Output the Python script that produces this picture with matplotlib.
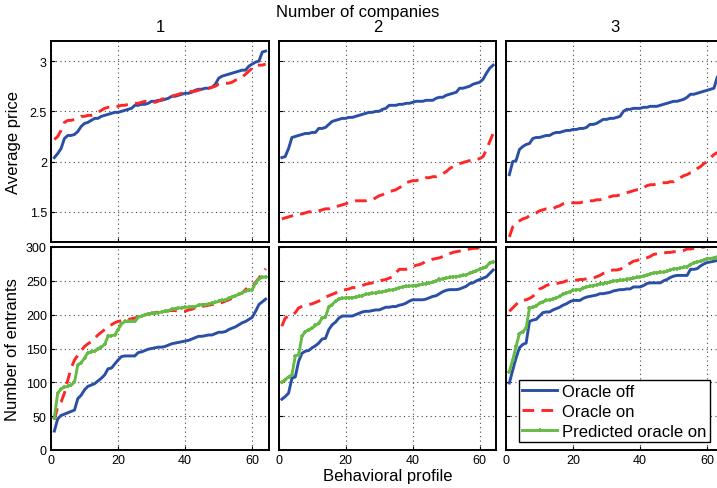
import numpy as np
import matplotlib
matplotlib.use("Agg")
import matplotlib.pyplot as plt

plt.rcParams['font.family'] = ['Liberation Sans', 'DejaVu Sans']

# behavioral profiles 1..64
profile = np.arange(1, 65)
companies = ["1", "2", "3"]

# average price, oracle off / on, per number of companies
price_off_1 = [2.04, 2.08, 2.13, 2.23, 2.26, 2.26, 2.27, 2.30, 2.35, 2.38, 2.39, 2.41, 2.43, 2.43, 2.45, 2.46,
               2.47, 2.48, 2.49, 2.49, 2.50, 2.51, 2.52, 2.53, 2.56, 2.56, 2.57, 2.57, 2.58, 2.60, 2.60, 2.61,
               2.61, 2.62, 2.63, 2.65, 2.65, 2.66, 2.67, 2.68, 2.68, 2.69, 2.71, 2.72, 2.72, 2.73, 2.73, 2.74,
               2.77, 2.83, 2.85, 2.86, 2.87, 2.88, 2.89, 2.90, 2.91, 2.91, 2.95, 2.97, 2.99, 3.00, 3.09, 3.10]
price_on_1 = [2.22, 2.25, 2.31, 2.39, 2.41, 2.41, 2.42, 2.43, 2.45, 2.45, 2.46, 2.46, 2.47, 2.49, 2.51, 2.53,
              2.54, 2.54, 2.55, 2.55, 2.56, 2.56, 2.57, 2.57, 2.58, 2.58, 2.59, 2.60, 2.59, 2.59, 2.59, 2.60,
              2.62, 2.63, 2.64, 2.65, 2.66, 2.67, 2.68, 2.69, 2.69, 2.70, 2.70, 2.71, 2.72, 2.73, 2.73, 2.74,
              2.75, 2.77, 2.77, 2.78, 2.78, 2.79, 2.81, 2.82, 2.84, 2.87, 2.90, 2.93, 2.96, 2.96, 2.96, 2.97]
price_off_2 = [2.04, 2.05, 2.13, 2.24, 2.25, 2.26, 2.27, 2.28, 2.28, 2.29, 2.29, 2.33, 2.33, 2.34, 2.37, 2.40,
               2.41, 2.42, 2.43, 2.43, 2.44, 2.44, 2.45, 2.46, 2.47, 2.48, 2.49, 2.49, 2.50, 2.50, 2.52, 2.53,
               2.56, 2.56, 2.56, 2.57, 2.57, 2.58, 2.58, 2.59, 2.60, 2.60, 2.60, 2.61, 2.61, 2.61, 2.63, 2.64,
               2.64, 2.66, 2.67, 2.68, 2.69, 2.73, 2.73, 2.74, 2.75, 2.77, 2.78, 2.79, 2.82, 2.88, 2.93, 2.96]
price_on_2 = [1.43, 1.44, 1.45, 1.46, 1.47, 1.48, 1.48, 1.49, 1.50, 1.50, 1.50, 1.51, 1.52, 1.53, 1.53, 1.54,
              1.55, 1.56, 1.57, 1.58, 1.59, 1.60, 1.61, 1.61, 1.61, 1.61, 1.62, 1.62, 1.64, 1.66, 1.67, 1.69,
              1.70, 1.71, 1.72, 1.74, 1.76, 1.79, 1.80, 1.81, 1.81, 1.82, 1.82, 1.84, 1.84, 1.85, 1.85, 1.86,
              1.88, 1.90, 1.93, 1.95, 1.97, 1.98, 1.99, 2.00, 2.01, 2.02, 2.02, 2.03, 2.05, 2.12, 2.20, 2.28]
price_off_3 = [1.87, 2.00, 2.01, 2.12, 2.15, 2.17, 2.18, 2.23, 2.24, 2.24, 2.25, 2.26, 2.26, 2.28, 2.29, 2.29,
               2.30, 2.31, 2.31, 2.32, 2.32, 2.33, 2.33, 2.34, 2.37, 2.37, 2.38, 2.40, 2.42, 2.42, 2.43, 2.43,
               2.44, 2.45, 2.50, 2.52, 2.52, 2.53, 2.53, 2.53, 2.54, 2.54, 2.55, 2.55, 2.55, 2.56, 2.57, 2.58,
               2.59, 2.60, 2.60, 2.61, 2.62, 2.64, 2.67, 2.67, 2.68, 2.69, 2.70, 2.71, 2.72, 2.73, 2.84, 2.89]
price_on_3 = [1.25, 1.35, 1.39, 1.41, 1.43, 1.44, 1.46, 1.48, 1.49, 1.51, 1.52, 1.53, 1.53, 1.53, 1.55, 1.56,
              1.58, 1.59, 1.59, 1.59, 1.59, 1.59, 1.60, 1.60, 1.61, 1.61, 1.62, 1.62, 1.63, 1.64, 1.65, 1.66,
              1.66, 1.67, 1.68, 1.69, 1.70, 1.71, 1.72, 1.72, 1.74, 1.76, 1.77, 1.77, 1.78, 1.78, 1.79, 1.79,
              1.80, 1.80, 1.82, 1.84, 1.86, 1.87, 1.89, 1.90, 1.93, 1.95, 1.98, 2.00, 2.04, 2.07, 2.09, 2.10]

# number of entrants
entr_off_1 = [28, 46, 51, 53, 55, 57, 59, 76, 81, 89, 94, 96, 98, 102, 106, 111,
              120, 121, 127, 133, 138, 139, 139, 139, 139, 144, 145, 147, 149, 150, 151, 152,
              152, 153, 155, 157, 158, 159, 160, 161, 162, 164, 166, 168, 168, 169, 170, 170,
              172, 174, 174, 175, 178, 180, 182, 185, 188, 190, 193, 196, 205, 215, 219, 223]
entr_on_1 = [45, 64, 71, 84, 103, 121, 133, 140, 147, 153, 157, 160, 165, 170, 174, 178,
             182, 185, 188, 190, 191, 192, 193, 194, 195, 197, 199, 200, 201, 202, 203, 204,
             205, 205, 206, 206, 206, 205, 205, 205, 207, 208, 210, 211, 212, 213, 214, 215,
             215, 216, 218, 220, 222, 224, 227, 230, 232, 237, 242, 243, 248, 254, 261, 268]
entr_pred_1 = [48, 84, 90, 93, 94, 96, 100, 126, 129, 136, 144, 145, 146, 150, 152, 156,
               168, 169, 170, 178, 186, 190, 190, 190, 190, 196, 198, 200, 201, 202, 202, 203,
               204, 205, 206, 208, 209, 210, 210, 211, 211, 212, 212, 214, 215, 215, 216, 217,
               218, 220, 221, 222, 224, 226, 228, 230, 232, 235, 236, 237, 247, 253, 255, 256]
entr_off_2 = [75, 79, 84, 106, 108, 131, 143, 146, 147, 151, 154, 158, 164, 165, 178, 185,
              189, 195, 198, 198, 198, 198, 200, 202, 204, 205, 205, 206, 207, 207, 209, 211,
              211, 212, 212, 214, 215, 217, 220, 222, 222, 222, 222, 223, 225, 227, 228, 231,
              234, 236, 237, 237, 237, 238, 240, 242, 246, 247, 250, 252, 254, 256, 261, 266]
entr_on_2 = [183, 195, 198, 198, 203, 210, 212, 213, 215, 216, 218, 220, 223, 226, 228, 230,
             232, 235, 236, 237, 238, 240, 240, 241, 243, 245, 246, 247, 248, 250, 251, 252,
             254, 256, 262, 267, 267, 267, 269, 271, 273, 274, 276, 279, 280, 282, 283, 284,
             286, 288, 290, 292, 293, 294, 295, 296, 297, 298, 298, 299, 300, 301, 302, 303]
entr_pred_2 = [100, 104, 108, 111, 139, 141, 168, 175, 178, 180, 184, 187, 195, 196, 212, 215,
               220, 223, 224, 225, 225, 225, 226, 227, 228, 230, 231, 232, 232, 233, 234, 235,
               236, 237, 238, 240, 241, 242, 242, 243, 243, 244, 245, 246, 247, 248, 250, 252,
               253, 254, 255, 256, 256, 257, 258, 259, 261, 263, 265, 267, 269, 271, 277, 278]
entr_off_3 = [99, 118, 136, 151, 156, 158, 190, 192, 193, 198, 203, 204, 204, 207, 209, 211,
              214, 216, 219, 221, 221, 221, 224, 226, 227, 228, 229, 231, 231, 232, 233, 235,
              236, 237, 237, 238, 238, 241, 241, 241, 243, 246, 247, 247, 247, 247, 250, 252,
              255, 257, 258, 258, 258, 258, 267, 267, 268, 272, 275, 277, 278, 279, 280, 282]
entr_on_3 = [205, 210, 215, 220, 221, 222, 224, 227, 232, 238, 240, 243, 245, 246, 246, 247,
             248, 250, 250, 250, 251, 252, 252, 253, 254, 254, 256, 258, 261, 263, 265, 266,
             266, 267, 270, 273, 276, 279, 280, 282, 283, 284, 286, 289, 290, 291, 291, 292,
             292, 293, 293, 294, 295, 297, 297, 298, 298, 299, 300, 301, 301, 301, 301, 301]
entr_pred_3 = [116, 133, 153, 172, 175, 180, 210, 211, 213, 217, 219, 221, 222, 223, 225, 227,
               230, 232, 234, 236, 237, 237, 239, 241, 242, 243, 244, 246, 246, 247, 248, 250,
               250, 251, 251, 252, 253, 254, 255, 256, 257, 258, 260, 262, 262, 263, 263, 264,
               266, 268, 268, 269, 270, 271, 274, 277, 278, 279, 281, 283, 283, 284, 285, 286]

price_off = [price_off_1, price_off_2, price_off_3]
price_on = [price_on_1, price_on_2, price_on_3]
entr_off = [entr_off_1, entr_off_2, entr_off_3]
entr_on = [entr_on_1, entr_on_2, entr_on_3]
entr_pred = [entr_pred_1, entr_pred_2, entr_pred_3]

blue = '#2a4fa6'
red = '#ff2626'
green = '#66bb44'

fig = plt.figure(figsize=(7.17, 4.89), dpi=100)
W, H = 717., 489.
lefts = [51, 278.5, 506]
title_x = [160, 378, 615]
aw = 218
top_row = (42, 243)
bot_row = (248, 451)

def style(ax):
    ax.grid(True, color='#444444', linestyle=(0, (1, 3)), linewidth=0.8)
    ax.tick_params(direction='in', length=3, labelsize=9, color='black', pad=3)
    for s in ax.spines.values():
        s.set_linewidth(1.4)
    ax.set_xlim(0, 65)
    ax.set_xticks([0, 20, 40, 60])

for i in range(3):
    l = lefts[i] / W
    ax1 = fig.add_axes([l, 1 - top_row[1] / H, aw / W, (top_row[1] - top_row[0]) / H])
    ax1.plot(profile, price_off[i], color=blue, lw=2.1)
    ax1.plot(profile, price_on[i], color=red, lw=2.1, dashes=(4, 2.5))
    style(ax1)
    ax1.set_ylim(1.2, 3.2)
    ax1.set_yticks([1.5, 2, 2.5, 3])
    ax1.set_yticklabels(['1.5', '2', '2.5', '3'])
    ax1.set_xticklabels([])
    fig.text(title_x[i] / W, 1 - 27 / H, companies[i], ha='center', va='center', fontsize=12)

    ax2 = fig.add_axes([l, 1 - bot_row[1] / H, aw / W, (bot_row[1] - bot_row[0]) / H])
    ax2.plot(profile, entr_off[i], color=blue, lw=2.1, label='Oracle off')
    ax2.plot(profile, entr_on[i], color=red, lw=2.1, dashes=(4, 2.5), label='Oracle on')
    ax2.plot(profile, entr_pred[i], color=green, lw=2.1, marker='+', markersize=3.5,
             markeredgewidth=1.2, label='Predicted oracle on')
    style(ax2)
    ax2.set_ylim(0, 300)
    ax2.set_yticks(range(0, 301, 50))
    if i > 0:
        ax1.set_yticklabels([])
        ax2.set_yticklabels([])
    else:
        ax1.set_ylabel('Average price', fontsize=12, labelpad=6)
        ax2.set_ylabel('Number of entrants', fontsize=12, labelpad=4)
    if i == 1:
        ax2.set_xlabel('Behavioral profile', fontsize=12, labelpad=1)
    if i == 2:
        leg = ax2.legend(loc='lower left', bbox_to_anchor=(0.06, 0.04), fontsize=12,
                         fancybox=False, edgecolor='black', framealpha=1,
                         handlelength=2.1, handletextpad=0.3, borderpad=0.2,
                         labelspacing=0.3, borderaxespad=0)
        leg.get_frame().set_linewidth(1.0)

fig.text(358 / W, 1 - 12.5 / H, 'Number of companies', ha='center', va='center', fontsize=12)

fig.savefig('out.png', dpi=100)
